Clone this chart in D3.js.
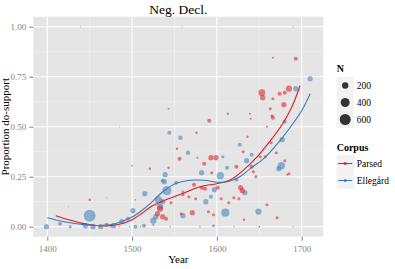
<!DOCTYPE html>
<html>
<head>
<meta charset="utf-8">
<script src="https://cdn.jsdelivr.net/npm/d3@7"></script>
<style>
  body { margin: 0; background: #fff; }
  svg { display: block; }
  text { font-family: "Liberation Serif", "DejaVu Serif", serif; }
</style>
</head>
<body>
<script>
// ---- data ----
var xTicks = [1400, 1500, 1600, 1700];
var xMinor = [1450, 1550, 1650];
var yTicks = [0, 0.25, 0.5, 0.75, 1];
var yMinor = [0.125, 0.375, 0.625, 0.875];
var sizeBreaks = [200, 400, 600];
var corpora = ["Parsed", "Ellegård"];

// Ellegård points: year, proportion, N
var ellYear = [1399,1415,1427,1439,1445,1450,1454,1463,1470,1478,
               1485,1488,1495,1501,1504,1514,1515,1525,1528,1531,
               1533,1536,1536,1538,1539,1541,1543,1544,1552,1557,
               1559,1560,1560,1566,1582,1587,1593,1597,1604,1607,
               1610,1612,1613,1623,1627,1633,1635,1641,1649,1673,
               1676,1677,1680,1690,1693,1710,1425,1470,1545,1596,
               1650];
var ellProp = [0,0.015,0,1.0,0.005,0.055,0,0,0.01,0.005,
               0.5,0.025,0.04,0.08,0,0.005,0.165,0.03,0.05,0.135,
               0.10,0.125,0.23,0.225,0.26,0.18,0.59,0.47,0.22,0.445,
               1.0,0.055,0.175,0.37,0.27,0.125,0.15,0.185,0.255,0.35,
               0.07,0.295,0.565,0.235,0.41,0.17,0.33,0.36,0.075,0.29,
               0.305,0.435,0.525,1.0,0.69,0.74,0.10,0.145,0,0.005,
               0];
var ellN    = [133,85,48,3,133,700,133,133,85,133,
               3,133,85,133,85,85,133,192,133,262,
               192,133,85,133,133,420,20,85,85,100,
               3,133,48,100,133,133,85,133,262,48,
               330,85,30,85,85,133,133,85,192,133,
               262,133,85,3,133,133,3,3,10,48,
               10];

// Parsed points: year, proportion, N
var parYear = [1450,1455,1462,1475,1485,1497,1500,1504,1510,1521,
               1525,1530,1533,1536,1540,1543,1546,1553,1556,1558,
               1560,1567,1571,1573,1575,1576,1577,1580,1582,1585,
               1586,1590,1591,1593,1594,1596,1599,1601,1605,1614,
               1620,1623,1626,1628,1630,1631,1632,1636,1639,1640,
               1641,1643,1646,1651,1653,1654,1657,1659,1659,1663,
               1664,1665,1666,1666,1666,1670,1671,1674,1679,1680,
               1680,1683,1685,1685,1693,1620,1650,1690];
var parProp = [0.135,0,0,0,0,0,0.305,0.135,0,0.29,
               0.01,0.065,0.09,0.05,0.04,0.295,0.12,0.39,0.34,0.065,
               0.16,0.15,0.07,0.21,0.14,0.47,0.345,0,0.195,0.315,
               0.19,0.075,0.53,0.345,0.27,0.06,0.345,0.195,0.14,0.12,
               0.145,0.30,0.14,0.195,0.18,0.375,0.035,0.45,0.565,0.54,
               0.30,0.275,0.25,0.35,0.67,0.645,0.35,0.50,0.11,0.59,
               0.42,0.555,0.845,0.545,0.64,0.37,0.045,0.665,0.61,0.67,
               0.33,0.26,0.69,0.265,0.84,0,0,0];
var parN    = [30,8,8,8,8,8,15,10,10,30,
               20,133,192,133,85,30,48,30,85,48,
               48,48,133,85,48,30,20,10,85,85,
               85,48,85,133,48,48,133,85,48,48,
               48,85,48,133,133,48,30,30,20,20,
               85,48,48,48,240,133,48,20,48,48,
               48,48,20,85,48,48,48,85,133,85,
               48,20,192,48,85,8,8,8];

// smoothed trend lines
var parFitYear = [1410,1425,1440,1455,1470,1485,1500,1511,1522,1540,1561,1573,1585,1600,1616,1632,1648,1664,1676,1688,1698];
var parFitProp = [0.055,0.035,0.018,0.007,0.004,0.012,0.035,0.065,0.10,0.135,0.168,0.19,0.205,0.215,0.235,0.285,0.352,0.435,0.505,0.595,0.705];
var ellFitYear = [1400,1420,1440,1460,1480,1500,1511,1522,1537,1553,1569,1585,1601,1613,1628,1640,1656,1672,1687,1700,1710];
var ellFitProp = [0.045,0.025,0.012,0.006,0.015,0.048,0.08,0.118,0.177,0.218,0.232,0.232,0.222,0.225,0.252,0.293,0.343,0.418,0.5,0.58,0.665];

var colors = { "Parsed": "#E41A1C", "Ellegård": "#377EB8" };

var W = 395, H = 269;
var svg = d3.select("body").append("svg")
  .attr("width", W)
  .attr("height", H);

// panel box
var pLeft = 33.3, pRight = 323.3, pTop = 16.7, pBottom = 236.7;

var x = d3.scaleLinear().domain([1383.5, 1725.5]).range([pLeft, pRight]);
var y = d3.scaleLinear().domain([-0.05, 1.05]).range([pBottom, pTop]);
var r = d3.scaleSqrt().domain([0, 600]).range([0, 5.5]);

// panel background
svg.append("rect")
  .attr("x", pLeft).attr("y", pTop)
  .attr("width", pRight - pLeft).attr("height", pBottom - pTop)
  .attr("fill", "#E5E5E5");

// minor grid
svg.selectAll(".xminor").data(xMinor).enter().append("line")
  .attr("x1", d => x(d)).attr("x2", d => x(d))
  .attr("y1", pTop).attr("y2", pBottom)
  .attr("stroke", "#F2F2F2").attr("stroke-width", 0.6);
svg.selectAll(".yminor").data(yMinor).enter().append("line")
  .attr("x1", pLeft).attr("x2", pRight)
  .attr("y1", d => y(d)).attr("y2", d => y(d))
  .attr("stroke", "#F2F2F2").attr("stroke-width", 0.6);

// major grid
svg.selectAll(".xmajor").data(xTicks).enter().append("line")
  .attr("x1", d => x(d)).attr("x2", d => x(d))
  .attr("y1", pTop).attr("y2", pBottom)
  .attr("stroke", "#fff").attr("stroke-width", 1.1);
svg.selectAll(".ymajor").data(yTicks).enter().append("line")
  .attr("x1", pLeft).attr("x2", pRight)
  .attr("y1", d => y(d)).attr("y2", d => y(d))
  .attr("stroke", "#fff").attr("stroke-width", 1.1);

// points
var ellPts = ellYear.map((d, i) => ({ year: d, p: ellProp[i], n: ellN[i], c: "Ellegård" }));
var parPts = parYear.map((d, i) => ({ year: d, p: parProp[i], n: parN[i], c: "Parsed" }));
var allPts = ellPts.concat(parPts);

svg.append("g").selectAll("circle").data(allPts).enter().append("circle")
  .attr("cx", d => x(d.year))
  .attr("cy", d => y(d.p))
  .attr("r", d => Math.max(0.5, r(d.n)))
  .attr("fill", d => colors[d.c])
  .attr("fill-opacity", 0.55);

// trend lines
var line = d3.line()
  .x(d => x(d[0])).y(d => y(d[1]))
  .curve(d3.curveCatmullRom.alpha(0.5));

svg.append("path")
  .datum(parFitYear.map((d, i) => [d, parFitProp[i]]))
  .attr("d", line)
  .attr("fill", "none").attr("stroke", colors["Parsed"]).attr("stroke-width", 1.1);
svg.append("path")
  .datum(ellFitYear.map((d, i) => [d, ellFitProp[i]]))
  .attr("d", line)
  .attr("fill", "none").attr("stroke", colors["Ellegård"]).attr("stroke-width", 1.1);

// axes
var xAxis = svg.append("g")
  .attr("transform", "translate(0," + pBottom + ")")
  .call(d3.axisBottom(x).tickValues(xTicks).tickFormat(d3.format("d")).tickSize(4).tickPadding(5));
var yAxis = svg.append("g")
  .attr("transform", "translate(" + pLeft + ",0)")
  .call(d3.axisLeft(y).tickValues(yTicks).tickFormat(d3.format(".2f")).tickSize(4).tickPadding(3));

[xAxis, yAxis].forEach(function(g) {
  g.select(".domain").remove();
  g.selectAll(".tick line").attr("stroke", "#7F7F7F");
  g.selectAll(".tick text")
    .attr("fill", "#7F7F7F")
    .style("font-size", "9px")
    .style("font-family", "'Liberation Serif', serif");
});

// title and axis labels
svg.append("text")
  .attr("x", (pLeft + pRight) / 2).attr("y", 14)
  .attr("text-anchor", "middle")
  .style("font-size", "13.5px")
  .text("Neg. Decl.");

svg.append("text")
  .attr("x", (pLeft + pRight) / 2).attr("y", 263)
  .attr("text-anchor", "middle")
  .style("font-size", "11px")
  .text("Year");

// y label sits right at the left edge, as in the reference
svg.append("text")
  .attr("transform", "translate(8.5," + ((pTop + pBottom) / 2) + ") rotate(-90)")
  .attr("text-anchor", "middle")
  .style("font-size", "11px")
  .text("Proportion do-support");

// legend: N
var lx = 336.7;
svg.append("text")
  .attr("x", lx).attr("y", 72)
  .style("font-size", "10px").style("font-weight", "bold")
  .text("N");

var sizeKeys = svg.append("g").selectAll("g").data(sizeBreaks).enter().append("g")
  .attr("transform", (d, i) => "translate(" + lx + "," + (77 + i * 17) + ")");
sizeKeys.append("rect")
  .attr("width", 17).attr("height", 17)
  .attr("fill", "#F2F2F2");
sizeKeys.append("circle")
  .attr("cx", 8.5).attr("cy", 8.5)
  .attr("r", d => r(d))
  .attr("fill", "#333");
sizeKeys.append("text")
  .attr("x", 20).attr("y", 8.5).attr("dy", "0.35em")
  .style("font-size", "9.5px")
  .text(d => d);

// legend: Corpus
svg.append("text")
  .attr("x", lx).attr("y", 151)
  .style("font-size", "10px").style("font-weight", "bold")
  .text("Corpus");

var corpKeys = svg.append("g").selectAll("g").data(corpora).enter().append("g")
  .attr("transform", (d, i) => "translate(" + lx + "," + (155 + i * 17) + ")");
corpKeys.append("rect")
  .attr("width", 17).attr("height", 17)
  .attr("fill", "#F2F2F2");
corpKeys.append("line")
  .attr("x1", 1.5).attr("x2", 15.5)
  .attr("y1", 8.5).attr("y2", 8.5)
  .attr("stroke", d => colors[d]).attr("stroke-width", 1.1);
corpKeys.append("circle")
  .attr("cx", 8.5).attr("cy", 8.5).attr("r", 1.6)
  .attr("fill", d => colors[d]).attr("fill-opacity", 0.8);
corpKeys.append("text")
  .attr("x", 20).attr("y", 8.5).attr("dy", "0.35em")
  .style("font-size", "9.5px")
  .text(d => d);
</script>
</body>
</html>
